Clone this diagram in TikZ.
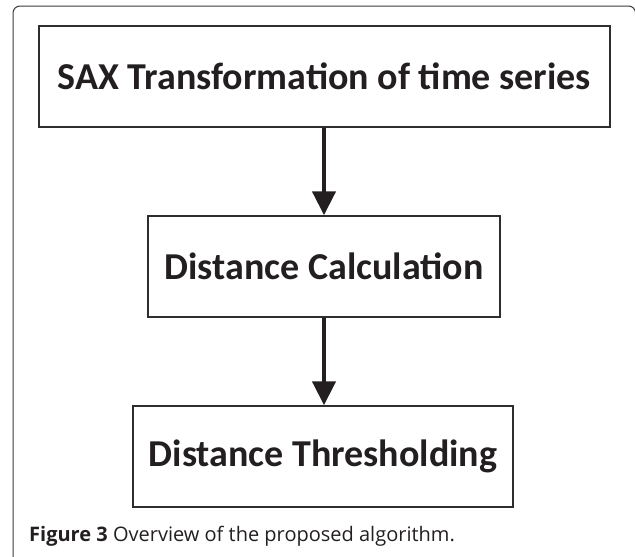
\documentclass[tikz,border=0pt]{standalone}
\usepackage{fontspec}
\setmainfont{Carlito}
\newfontfamily\capfont{Open Sans}
\usetikzlibrary{arrows.meta}
\definecolor{framegray}{HTML}{3A3A3A}
\definecolor{boxgray}{HTML}{2E2E2E}
\definecolor{arrowblack}{HTML}{231F20}
\tikzset{
  stepbox/.style={draw=boxgray, line width=1.5pt, fill=white, inner sep=0pt,
    font=\fontsize{38}{44}\selectfont\bfseries, text=arrowblack},
  flowarrow/.style={draw=arrowblack, line width=4.5pt,
    -{Triangle[width=23pt,length=24pt]}, shorten >=0pt},
  framestyle/.style={draw=framegray, line width=1pt, rounded corners=7pt}
}
\begin{document}
\begin{tikzpicture}[x=1pt,y=1pt]
\useasboundingbox (0,0) rectangle (635,-557);
\begin{scope}
\clip (0,0) rectangle (635,-557);
\draw[framestyle] (13,-6) rectangle (635.5,-580);
\end{scope}
\node[stepbox, minimum width=571pt, minimum height=101pt] (sax) at (324.5,-76.5) {SAX Transformation of time series};
\node[stepbox, minimum width=352pt, minimum height=101pt] (dist) at (324,-266.5) {Distance Calculation};
\node[stepbox, minimum width=380pt, minimum height=101pt] (thr) at (323,-456.5) {Distance Thresholding};
\draw[flowarrow] (sax.south -| dist.north) -- (dist.north);
\draw[flowarrow] (dist.south) -- (dist.south |- thr.north);
\node[anchor=base west, inner sep=0pt, text=arrowblack, font=\capfont\fontsize{20}{23}\selectfont] (cap) at (29,-541)
  {\textbf{Figure 3} Overview of the proposed algorithm.};
\end{tikzpicture}
\end{document}
